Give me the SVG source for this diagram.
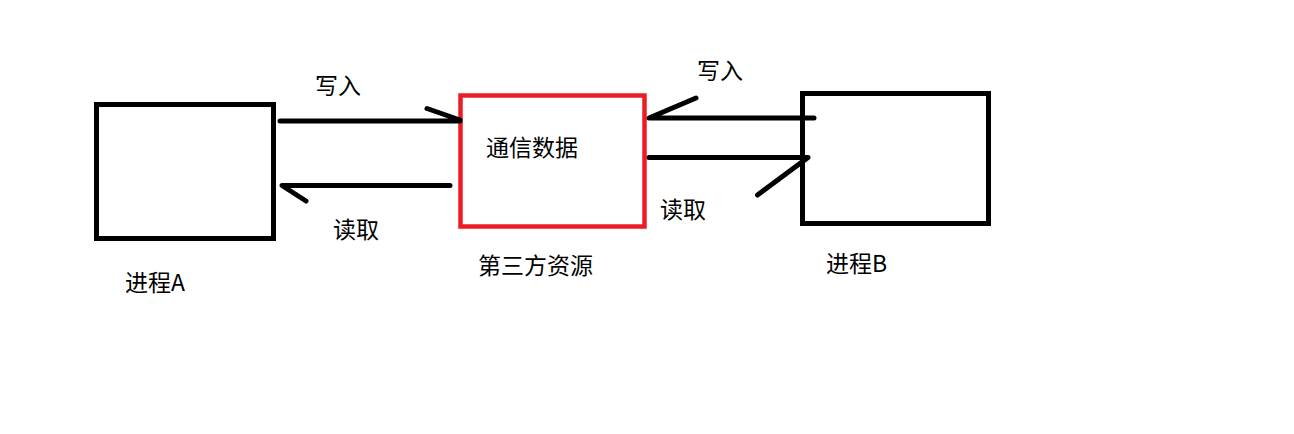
<svg xmlns="http://www.w3.org/2000/svg" width="1294" height="434" viewBox="0 0 1294 434">
<style>
.box{fill:none;stroke:#000;stroke-width:5}
.red{fill:none;stroke:#ed1c24;stroke-width:4.5}
.ln{fill:none;stroke:#000;stroke-width:5;stroke-linecap:round;stroke-linejoin:round}
text{font-family:"Noto Sans CJK SC","Microsoft YaHei",sans-serif;font-size:23px;fill:#000}
</style>
<rect width="1294" height="434" fill="#fff"/>
<g id="processA">
<rect class="box" x="96.5" y="104.5" width="177" height="134"/>
<text x="125" y="291">进程A</text>
</g>
<g id="resource">
<rect class="red" x="460.5" y="95.5" width="184" height="131"/>
<text x="486" y="156">通信数据</text>
<text x="478" y="274">第三方资源</text>
</g>
<g id="processB">
<rect class="box" x="802.5" y="93.5" width="186" height="130"/>
<text x="826" y="272">进程B</text>
</g>
<g id="connectors">
<path class="ln" d="M280 121 L460 121 M427 108.5 L460 120"/>
<path class="ln" d="M450 185.5 L282 185.5 L306 201"/>
<path class="ln" d="M814 118 L649 118 L696 98"/>
<path class="ln" d="M649 157.5 L808 157.5 L757.5 195"/>
<text x="315" y="94">写入</text>
<text x="333" y="238">读取</text>
<text x="697" y="79">写入</text>
<text x="660" y="218">读取</text>
</g>
</svg>
